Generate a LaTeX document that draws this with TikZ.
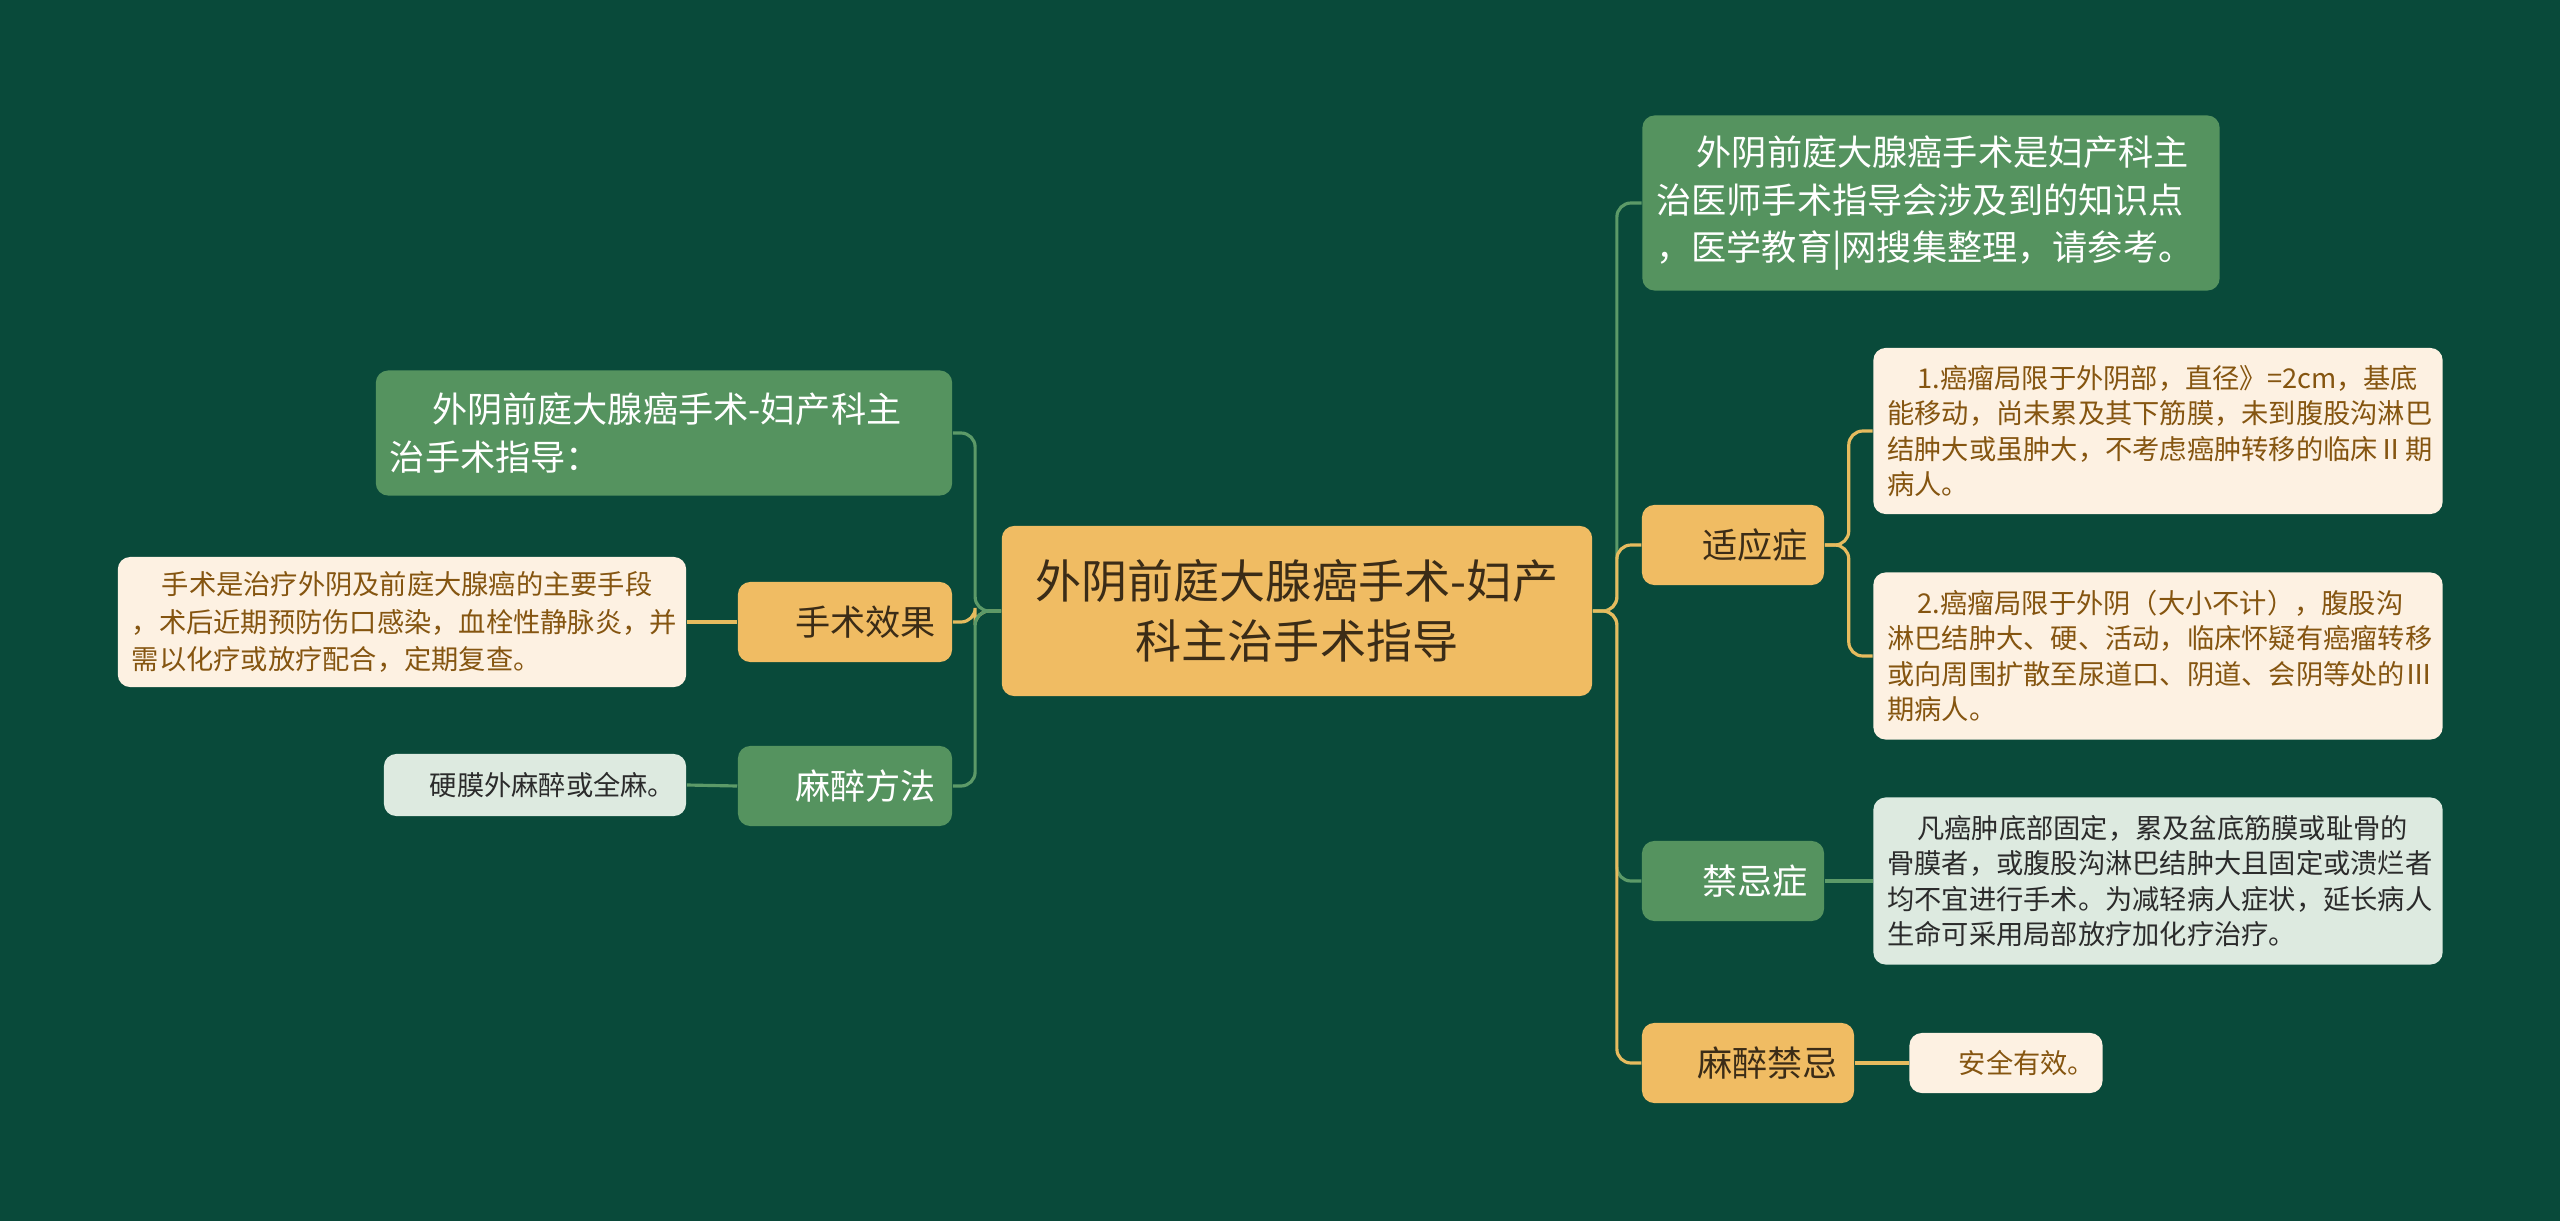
\documentclass[tikz,border=0pt]{standalone}
\usepackage{fontspec}
\setmainfont{Noto Sans CJK SC}
\usepackage{tikz}
\usetikzlibrary{positioning}
\definecolor{bgdark}{HTML}{094A3A}
\definecolor{orfill}{HTML}{F0BC63}
\definecolor{grfill}{HTML}{55935F}
\definecolor{crfill}{HTML}{FDF1E2}
\definecolor{mtfill}{HTML}{DDEAE0}
\definecolor{ordark}{HTML}{3B2C17}
\definecolor{crtext}{HTML}{855510}
\definecolor{mttext}{HTML}{2B2B2B}
\definecolor{orline}{HTML}{E6BB5E}
\definecolor{grline}{HTML}{5C9A68}

\begin{document}
\begin{tikzpicture}[x=0.01cm, y=-0.01cm,
  box/.style={rounded corners=3.5pt, inner sep=0pt},
  rootbox/.style={box, fill=orfill, text=ordark, align=center,
    font=\fontsize{13.1}{17.1}\selectfont,
    minimum width=5.9cm, minimum height=1.7cm},
  subor/.style={box, fill=orfill, text=ordark, align=right,
    font=\fontsize{10}{13.5}\selectfont, minimum height=0.8cm},
  subgr/.style={box, fill=grfill, text=white, align=right,
    font=\fontsize{10}{13.5}\selectfont, minimum height=0.8cm},
  notegr/.style={box, fill=grfill, text=white, align=left,
    font=\fontsize{10}{13.6}\selectfont},
  leafcr/.style={box, fill=crfill, text=crtext, align=left,
    font=\fontsize{7.75}{10.1}\selectfont},
  leafmt/.style={box, fill=mtfill, text=mttext, align=left,
    font=\fontsize{7.75}{10.1}\selectfont},
  linkor/.style={draw=orline, line width=0.9pt, rounded corners=4pt},
  linkgr/.style={draw=grline, line width=0.9pt, rounded corners=4pt}
]
  % background
  \fill[bgdark] (0,0) rectangle (2560,1221);
  \useasboundingbox (0,0) rectangle (2560,1221);

  % central topic
  \node[rootbox] (root) at (1297,611)
    {外阴前庭大腺癌手术-妇产\\科主治手术指导};

  % left side
  \node[notegr, minimum width=5.76cm, minimum height=1.25cm, text width=5.48cm]
    (lnote) at (664,433)
    {\hspace*{1.2em}外阴前庭大腺癌手术-妇产科主\\治手术指导：};
  \node[subor, minimum width=2.14cm, text width=1.82cm] (xg) at (845,622) {手术效果};
  \node[leafcr, font=\fontsize{7.75}{10.7}\selectfont,
    minimum width=5.68cm, minimum height=1.30cm, text width=5.40cm]
    (xgleaf) at (402,622)
    {\hspace*{1.1em}手术是治疗外阴及前庭大腺癌的主要手段\\
     ，术后近期预防伤口感染，血栓性静脉炎，并\\
     需以化疗或放疗配合，定期复查。};
  \node[subgr, minimum width=2.14cm, text width=1.82cm] (mzff) at (845,786) {麻醉方法};
  \node[leafmt, align=right,
    minimum width=3.02cm, minimum height=0.62cm, text width=2.80cm]
    (mzleaf) at (535,785) {硬膜外麻醉或全麻。};

  % right side
  \node[notegr, minimum width=5.77cm, minimum height=1.75cm, text width=5.49cm]
    (tnote) at (1931,203)
    {\hspace*{1.15em}外阴前庭大腺癌手术是妇产科主\\
     治医师手术指导会涉及到的知识点\\
     ，医学教育|网搜集整理，请参考。};
  \node[subor, minimum width=1.82cm, text width=1.50cm] (syz) at (1733,545) {适应症};
  \node[leafcr, minimum width=5.69cm, minimum height=1.66cm, text width=5.41cm]
    (leafA) at (2158,431)
    {\hspace*{1.1em}1.癌瘤局限于外阴部，直径》=2cm，基底\\
     能移动，尚未累及其下筋膜，未到腹股沟淋巴\\
     结肿大或虽肿大，不考虑癌肿转移的临床Ⅱ期\\
     病人。};
  \node[leafcr, minimum width=5.69cm, minimum height=1.67cm, text width=5.41cm]
    (leafB) at (2158,656)
    {\hspace*{1.1em}2.癌瘤局限于外阴（大小不计），腹股沟\\
     淋巴结肿大、硬、活动，临床怀疑有癌瘤转移\\
     或向周围扩散至尿道口、阴道、会阴等处的Ⅲ\\
     期病人。};
  \node[subgr, minimum width=1.82cm, text width=1.50cm] (jjz) at (1733,881) {禁忌症};
  \node[leafmt, minimum width=5.69cm, minimum height=1.67cm, text width=5.41cm]
    (leafC) at (2158,881)
    {\hspace*{1.1em}凡癌肿底部固定，累及盆底筋膜或耻骨的\\
     骨膜者，或腹股沟淋巴结肿大且固定或溃烂者\\
     均不宜进行手术。为减轻病人症状，延长病人\\
     生命可采用局部放疗加化疗治疗。};
  \node[subor, minimum width=2.12cm, text width=1.80cm] (mzjj) at (1748,1063) {麻醉禁忌};
  \node[leafcr, align=right,
    minimum width=1.93cm, minimum height=0.60cm, text width=1.78cm]
    (leafD) at (2006,1063) {安全有效。};

  % left connectors
  \draw[linkor] (root.west) -- ++(-26,0) |- (xg.east);
  \draw[linkgr] (root.west) -- ++(-26,0) |- (lnote.east);
  \draw[linkgr] (root.west) -- ++(-26,0) |- (mzff.east);
  \draw[linkor] (xg.west) -- (xgleaf.east);
  \draw[linkgr] (mzff.west) -- (mzleaf.east);

  % right connectors
  \draw[linkgr] (root.east) -- ++(24,0) |- (tnote.west);
  \draw[linkor] (root.east) -- ++(24,0) |- (syz.west);
  \draw[linkgr] (root.east) -- ++(24,0) |- (jjz.west);
  \draw[linkor] (root.east) -- ++(24,0) |- (mzjj.west);
  \draw[linkor] (syz.east) -- ++(24,0) |- (leafA.west);
  \draw[linkor] (syz.east) -- ++(24,0) |- (leafB.west);
  \draw[linkgr] (jjz.east) -- (leafC.west);
  \draw[linkor] (mzjj.east) -- (leafD.west);
\end{tikzpicture}
\end{document}
